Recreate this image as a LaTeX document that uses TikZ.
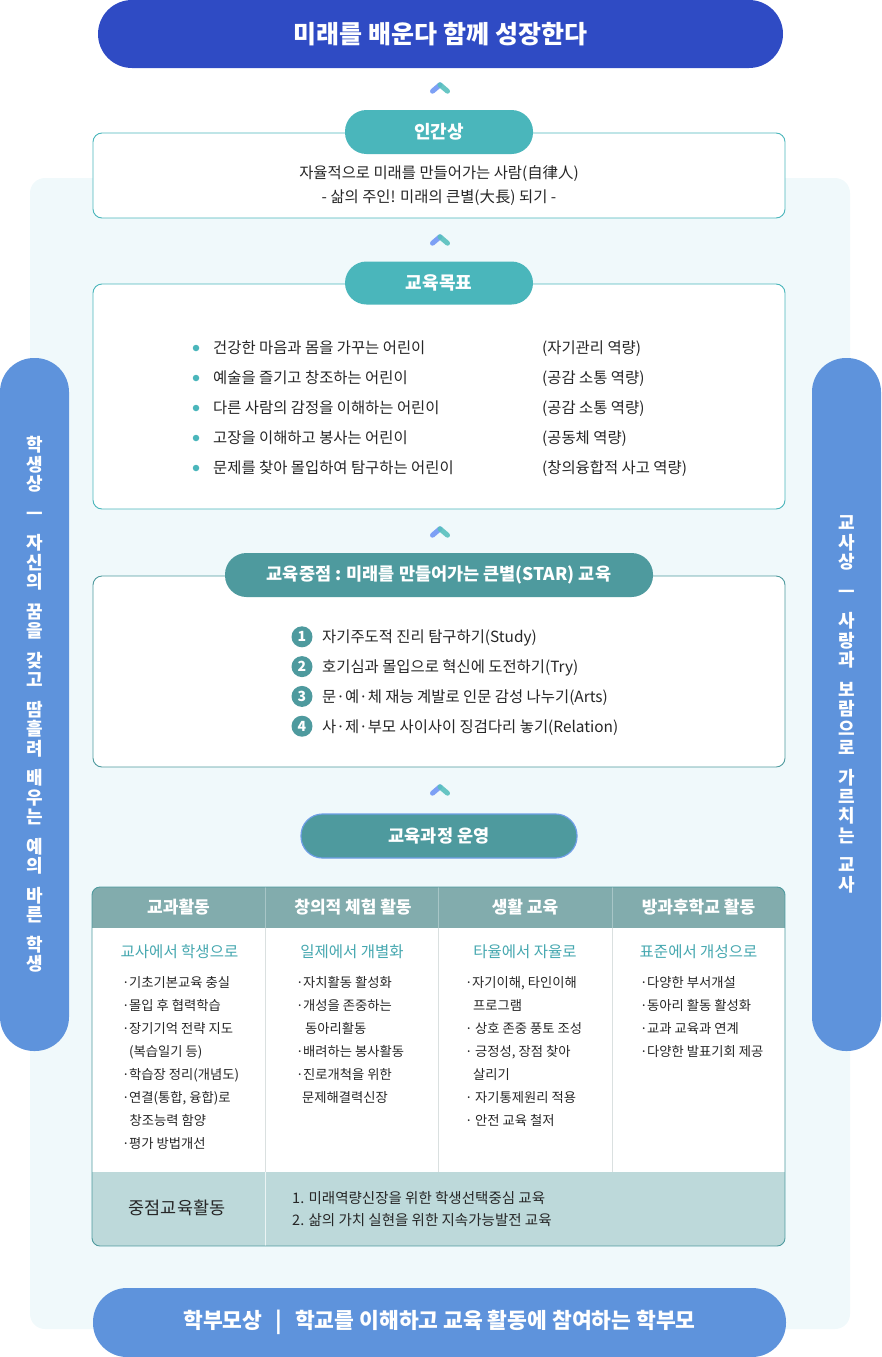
\documentclass[tikz,border=0pt]{standalone}
\usepackage{fontspec}
\setmainfont{Noto Sans CJK KR}
\definecolor{titleblue}{RGB}{47,75,196}
\definecolor{sideblue}{RGB}{94,147,220}
\definecolor{bgpale}{RGB}{240,249,251}
\definecolor{tealA}{RGB}{74,182,187}
\definecolor{tealB}{RGB}{78,154,158}
\definecolor{hdr}{RGB}{130,172,173}
\definecolor{ftr}{RGB}{189,217,218}
\definecolor{subteal}{RGB}{70,168,176}
\definecolor{txtc}{RGB}{38,38,38}
\definecolor{chevL}{RGB}{125,160,245}
\definecolor{chevR}{RGB}{88,192,190}
\definecolor{sepgray}{RGB}{218,224,224}
\definecolor{hdrsep}{RGB}{168,198,199}
\definecolor{pillborder}{RGB}{110,158,230}
\newcommand{\fs}[2]{\fontsize{#1}{#2}\selectfont}
\newcommand{\bl}{\makebox[7pt][l]{·}}
\newcommand{\blw}{\makebox[10pt][l]{·}}
\newcommand{\ind}[1]{\hspace*{#1}}
\newcommand{\chev}[2]{%
  \draw[chevL, line width=5pt, line cap=round] (#1-7.5,#2+3.2) -- (#1,#2-3.2);
  \draw[chevR, line width=5pt, line cap=round, opacity=0.9] (#1,#2-3.2) -- (#1+7.5,#2+3.2);}
\tikzset{
  pillT/.style={fill=tealA, text=white, font=\bfseries\fs{18}{21}, inner sep=0, minimum height=44pt, rounded corners=21.5pt},
  pillD/.style={fill=tealB, text=white, font=\bfseries\fs{17.5}{21}, inner sep=0, minimum height=44pt, rounded corners=21.5pt},
  boxA/.style={draw=tealA, line width=0.9pt, fill=white, rounded corners=9pt, inner sep=0},
  boxD/.style={draw=tealB, line width=0.9pt, fill=white, rounded corners=9pt, inner sep=0},
  txt/.style={text=txtc, font=\fs{15.4}{18}, inner sep=0},
  item/.style={text=txtc, font=\fs{13.3}{16}, inner sep=0, anchor=base west},
  hdrtext/.style={text=white, font=\bfseries\fs{17}{20}, inner sep=0},
  subt/.style={text=subteal, font=\fs{15.5}{18}, inner sep=0},
  sidebar/.style={fill=sideblue, text=white, font=\bfseries\fs{18}{19.4}, align=center, inner sep=0, minimum width=69pt, minimum height=693pt, rounded corners=34pt},
  numc/.style={circle, fill=tealB, text=white, font=\bfseries\fs{14}{16}, minimum size=21pt, inner sep=0},
  gdot/.style={circle, fill=tealA, minimum size=6.5pt, inner sep=0},
}
\begin{document}
\begin{tikzpicture}[x=1pt,y=-1pt]
\useasboundingbox (0,0) rectangle (881,1357);
% background panel
\fill[bgpale, rounded corners=15pt] (30,178) rectangle (850,1329);
% side bars
\def\g{10.2pt}
\node[sidebar] (lbar) at (34.5,704.5) {학\\생\\상\\[\g]ㅡ\\[\g]자\\신\\의\\[\g]꿈\\을\\[\g]갖\\고\\[\g]땀\\흘\\려\\[\g]배\\우\\는\\[\g]예\\의\\[\g]바\\른\\[\g]학\\생};
\node[sidebar] (rbar) at (846.5,704.5) {교\\사\\상\\[\g]ㅡ\\[\g]사\\랑\\과\\[\g]보\\람\\으\\로\\[\g]가\\르\\치\\는\\[\g]교\\사};
% title
\node[fill=titleblue, text=white, font=\bfseries\fs{25}{29}, minimum width=685pt, minimum height=68pt, rounded corners=34pt, inner sep=0] (title) at (440.5,34) {미래를 배운다 함께 성장한다};
\chev{440}{88}
% box 1
\node[boxA, minimum width=692pt, minimum height=85pt] (b1) at (439,175.5) {};
\node[pillT, minimum width=188pt] (p1) at (439,132) {인간상};
\node[txt, anchor=base] (b1l1) at (439,178.8) {자율적으로 미래를 만들어가는 사람(自律人)};
\node[txt, anchor=base] (b1l2) at (439,202.8) {- 삶의 주인! 미래의 큰별(大長) 되기 -};
\chev{440}{240}
% box 2
\node[boxA, minimum width=692pt, minimum height=225pt] (b2) at (439,396.5) {};
\node[pillT, minimum width=188pt, minimum height=43pt] (p2) at (439,283) {교육목표};
\foreach \gl/\gr [count=\i from 0] in {{건강한 마음과 몸을 가꾸는 어린이}/{(자기관리 역량)},{예술을 즐기고 창조하는 어린이}/{(공감 소통 역량)},{다른 사람의 감정을 이해하는 어린이}/{(공감 소통 역량)},{고장을 이해하고 봉사는 어린이}/{(공동체 역량)},{문제를 찾아 몰입하여 탐구하는 어린이}/{(창의융합적 사고 역량)}}{
  \node[gdot] (gd\i) at (196,348+30*\i) {};
  \node[txt, anchor=base west] (gl\i) at (213,353.8+30*\i) {\gl};
  \node[txt, anchor=base west] (gr\i) at (542,353.8+30*\i) {\gr};
}
\chev{440}{532}
% box 3
\node[boxD, minimum width=692pt, minimum height=191pt] (b3) at (439,671.5) {};
\node[pillD, minimum width=428pt] (p3) at (439,575) {교육중점 : 미래를 만들어가는 큰별(STAR) 교육};
\foreach \t [count=\i] in {{자기주도적 진리 탐구하기(Study)},{호기심과 몰입으로 혁신에 도전하기(Try)},{문·예·체 재능 계발로 인문 감성 나누기(Arts)},{사·제·부모 사이사이 징검다리 놓기(Relation)}}{
  \node[numc] (n\i) at (302,607+29.8*\i) {\i};
  \node[txt, anchor=base west] (st\i) at (322,612.8+29.8*\i) {\t};
}
\chev{440}{790}
\node[pillD, minimum width=276pt, draw=pillborder, line width=1.2pt] (p4) at (439,836) {교육과정 운영};
% table
\begin{scope}
  \clip[rounded corners=8pt] (92,887) rectangle (785,1246);
  \fill[white] (92,887) rectangle (785,1246);
  \fill[hdr] (92,887) rectangle (785,928);
  \fill[ftr] (92,1172) rectangle (785,1246);
  \foreach \x in {265,438,612}{
    \draw[hdrsep, line width=0.8pt] (\x,887) -- (\x,928);
    \draw[sepgray, line width=0.8pt] (\x,928) -- (\x,1172);
  }
  \draw[white!70!ftr, line width=0.8pt] (265,1172) -- (265,1246);
\end{scope}
\node[draw=tealB, line width=0.9pt, rounded corners=8pt, minimum width=693pt, minimum height=359pt, inner sep=0] (tbl) at (438.5,1066.5) {};
\node[hdrtext] (h1) at (178.5,907) {교과활동};
\node[hdrtext] (h2) at (353,907) {창의적 체험 활동};
\node[hdrtext] (h3) at (525,907) {생활 교육};
\node[hdrtext] (h4) at (698.5,907) {방과후학교 활동};
\node[subt] (s1) at (179.5,952) {교사에서 학생으로};
\node[subt] (s2) at (352,952) {일제에서 개별화};
\node[subt] (s3) at (525,952) {타율에서 자율로};
\node[subt] (s4) at (698.5,952) {표준에서 개성으로};
\foreach \t [count=\i from 0] in {{\bl 기초기본교육 충실},{\bl 몰입 후 협력학습},{\bl 장기기억 전략 지도},{\ind{7pt}(복습일기 등)},{\bl 학습장 정리(개념도)},{\bl 연결(통합, 융합)로},{\ind{7.5pt}창조능력 함양},{\bl 평가 방법개선}}{
  \node[item] (ca\i) at (122,987+23*\i) {\t};
}
\foreach \t [count=\i from 0] in {{\bl 자치활동 활성화},{\bl 개성을 존중하는},{\ind{9pt}동아리활동},{\bl 배려하는 봉사활동},{\bl 진로개척을 위한},{\ind{6pt}문제해결력신장}}{
  \node[item] (cb\i) at (296,987+23*\i) {\t};
}
\foreach \t [count=\i from 0] in {{\bl 자기이해, 타인이해},{\ind{8pt}프로그램},{\blw 상호 존중 풍토 조성},{\blw 긍정성, 장점 찾아},{\ind{8pt}살리기},{\blw 자기통제원리 적용},{\blw 안전 교육 철저}}{
  \node[item] (cc\i) at (465,987+23*\i) {\t};
}
\foreach \t [count=\i from 0] in {{\bl 다양한 부서개설},{\bl 동아리 활동 활성화},{\bl 교과 교육과 연계},{\bl 다양한 발표기회 제공}}{
  \node[item] (cd\i) at (640,987+23*\i) {\t};
}
\node[text=txtc, font=\fs{17.5}{20}, inner sep=0] (f0) at (177,1208) {중점교육활동};
\node[text=txtc, font=\fs{14.5}{17}, inner sep=0, anchor=base west] (f1) at (292,1203.4) {1. 미래역량신장을 위한 학생선택중심 교육};
\node[text=txtc, font=\fs{14.5}{17}, inner sep=0, anchor=base west] (f2) at (292,1225.4) {2. 삶의 가치 실현을 위한 지속가능발전 교육};
% footer pill
\node[fill=sideblue, text=white, font=\bfseries\fs{21.5}{24}, minimum width=693pt, minimum height=69pt, rounded corners=34pt, inner sep=0] (foot) at (439.5,1322.5) {학부모상\hspace{13pt}|\hspace{13pt}학교를 이해하고 교육 활동에 참여하는 학부모};
\end{tikzpicture}
\end{document}
